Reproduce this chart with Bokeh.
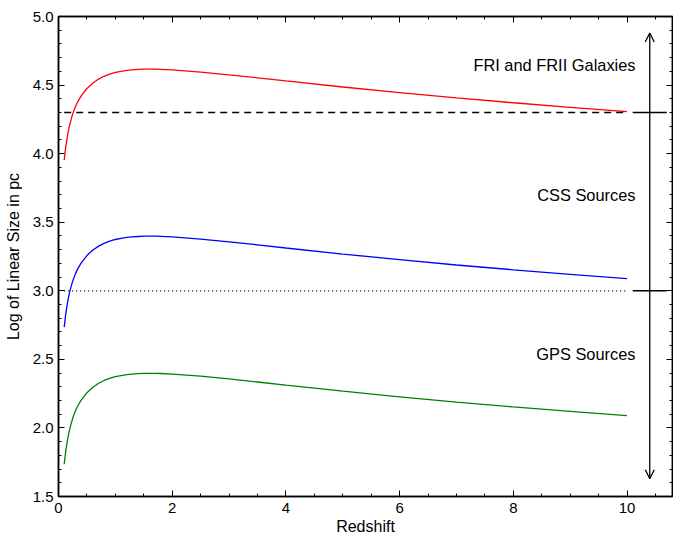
from bokeh.plotting import figure
from bokeh.models import (ColumnDataSource, LinearAxis, SingleIntervalTicker, Range1d,
                          Arrow, OpenHead, NumeralTickFormatter)
from bokeh.core.properties import value
from bokeh.embed import file_html
from bokeh.resources import INLINE

# ---- data ----
redshift = [0.1, 0.125, 0.15, 0.175, 0.2, 0.25, 0.3, 0.35, 0.4, 0.5, 0.6, 0.7, 0.8, 0.9,
            1.0, 1.1, 1.2, 1.3, 1.4, 1.5, 1.6, 1.7, 1.8, 2.0, 2.5, 3.0, 3.5, 4.0,
            5.0, 6.0, 7.0, 8.0, 9.0, 10.0]
size_fr = [3.953, 4.040, 4.110, 4.168, 4.215, 4.290, 4.345, 4.387, 4.421, 4.475, 4.513, 4.542,
           4.564, 4.580, 4.592, 4.600, 4.607, 4.611, 4.614, 4.616, 4.616, 4.616, 4.615, 4.611,
           4.595, 4.575, 4.553, 4.530, 4.486, 4.445, 4.406, 4.371, 4.338, 4.307]
size_css = [2.735, 2.822, 2.892, 2.950, 2.997, 3.072, 3.127, 3.169, 3.203, 3.257, 3.295, 3.324,
            3.346, 3.362, 3.374, 3.382, 3.389, 3.393, 3.396, 3.398, 3.398, 3.398, 3.397, 3.393,
            3.377, 3.357, 3.335, 3.312, 3.268, 3.227, 3.188, 3.153, 3.120, 3.089]
size_gps = [1.735, 1.822, 1.892, 1.950, 1.997, 2.072, 2.127, 2.169, 2.203, 2.257, 2.295, 2.324,
            2.346, 2.362, 2.374, 2.382, 2.389, 2.393, 2.396, 2.398, 2.398, 2.398, 2.397, 2.393,
            2.377, 2.357, 2.335, 2.312, 2.268, 2.227, 2.188, 2.153, 2.120, 2.089]

threshold_fr = 4.3
threshold_css = 3.0
line_z = [0.1, 10.0]

region_labels = ["FRI and FRII Galaxies", "CSS Sources", "GPS Sources"]
region_label_y = [4.65, 3.70, 2.54]
region_label_x = [10.15, 10.15, 10.15]

arrow_z = 10.4
arrow_bottom = 1.63
arrow_top = 4.88
marker_z = [10.1, 10.7]

FONT = "Liberation Sans"

p = figure(width=673, height=537, output_backend="svg", toolbar_location=None,
           x_range=Range1d(0, 10.8), y_range=Range1d(1.5, 5.0),
           x_axis_type=None, y_axis_type=None,
           min_border_left=58, min_border_right=1, min_border_top=16, min_border_bottom=41)
p.background_fill_color = "white"
p.border_fill_color = "white"
p.outline_line_color = "black"
p.outline_line_width = 1.5

bottom_axis = LinearAxis(ticker=SingleIntervalTicker(interval=2, num_minor_ticks=4),
                         axis_label="Redshift")
left_axis = LinearAxis(ticker=SingleIntervalTicker(interval=0.5, num_minor_ticks=5),
                       formatter=NumeralTickFormatter(format="0.0"),
                       axis_label="Log of Linear Size in pc")
top_axis = LinearAxis(ticker=SingleIntervalTicker(interval=2, num_minor_ticks=4))
right_axis = LinearAxis(ticker=SingleIntervalTicker(interval=0.5, num_minor_ticks=5))
p.add_layout(bottom_axis, "below")
p.add_layout(left_axis, "left")
p.add_layout(top_axis, "above")
p.add_layout(right_axis, "right")

for ax in [bottom_axis, left_axis, top_axis, right_axis]:
    ax.major_tick_in = 6
    ax.major_tick_out = 0
    ax.minor_tick_in = 3
    ax.minor_tick_out = 0
    ax.axis_line_color = "black"
    ax.axis_line_width = 1.5
    ax.major_tick_line_color = "black"
    ax.minor_tick_line_color = "black"
    ax.major_label_text_font = FONT
    ax.major_label_text_font_size = "15px"
    ax.major_label_text_color = "black"
    ax.axis_label_text_font = FONT
    ax.axis_label_text_font_size = "16px"
    ax.axis_label_text_font_style = "normal"
    ax.axis_label_text_color = "black"

for ax in [top_axis, right_axis]:
    ax.major_label_text_font_size = "0px"
    ax.major_label_text_color = None
    ax.major_label_standoff = 0
    ax.axis_label_standoff = 0

bottom_axis.major_label_standoff = 6
bottom_axis.axis_label_standoff = 2
left_axis.major_label_standoff = 5
left_axis.axis_label_standoff = 8

src = ColumnDataSource(dict(z=redshift, fr=size_fr, css=size_css, gps=size_gps))
p.line("z", "fr", source=src, line_color="#ff0000", line_width=1.3)
p.line("z", "css", source=src, line_color="#0000ff", line_width=1.3)
p.line("z", "gps", source=src, line_color="#008000", line_width=1.3)

p.line(line_z, [threshold_fr, threshold_fr], line_color="black", line_width=1.3, line_dash="7 5")
p.line(line_z, [threshold_css, threshold_css], line_color="black", line_width=1.2, line_dash="1 3")

p.line(marker_z, [threshold_fr, threshold_fr], line_color="black", line_width=1.5)
p.line(marker_z, [threshold_css, threshold_css], line_color="black", line_width=1.5)

p.add_layout(Arrow(x_start=arrow_z, y_start=arrow_bottom, x_end=arrow_z, y_end=arrow_top,
                   line_color="black", line_width=1.3,
                   start=OpenHead(size=9, line_color="black", line_width=1.3),
                   end=OpenHead(size=9, line_color="black", line_width=1.3)))

lsrc = ColumnDataSource(dict(x=region_label_x, y=region_label_y, t=region_labels))
p.text("x", "y", text="t", source=lsrc, text_font=value(FONT), text_font_size="16.4px",
       text_align="right", text_baseline="middle", text_color="black")

open("out.html", "w").write(file_html(p, INLINE))
